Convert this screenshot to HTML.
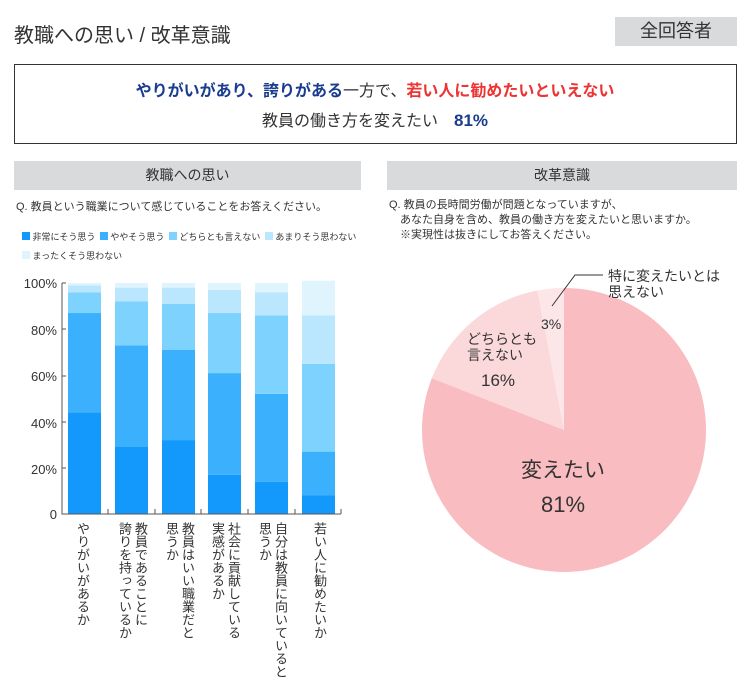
<!DOCTYPE html>
<html><head><meta charset="utf-8"><style>
body{margin:0;width:750px;height:700px;background:#fff;font-family:"Liberation Sans","Noto Sans CJK JP",sans-serif;color:#333;position:relative;overflow:hidden}
.a{position:absolute;white-space:nowrap}
.v{position:absolute;writing-mode:vertical-rl;font-size:13px;line-height:16px;color:#333;top:522px}
</style></head><body>
<div class="a" style="left:14px;top:19px;font-size:20px">教職への思い / 改革意識</div>
<div class="a" style="left:615px;top:17px;width:122px;height:29px;background:#d9dadc;font-size:18px;text-align:center;line-height:29px">全回答者</div>
<div class="a" style="left:14px;top:64px;width:721px;height:78px;border:1px solid #333"></div>
<div class="a" style="left:0;width:750px;top:77px;text-align:center;font-size:16px;font-weight:bold;color:#1a3c8f">やりがいがあり、誇りがある<span style="font-weight:normal;color:#333">一方で、</span><span style="color:#ee3333">若い人に勧めたいといえない</span></div>
<div class="a" style="left:0;width:750px;top:107px;text-align:center;font-size:16px">教員の働き方を変えたい　<span style="color:#1a3c8f;font-weight:bold;font-size:17px">81%</span></div>

<div class="a" style="left:14px;top:161px;width:347px;height:29px;background:#d9dadc;font-size:14px;text-align:center;line-height:29px">教職への思い</div>
<div class="a" style="left:387px;top:161px;width:350px;height:29px;background:#d9dadc;font-size:14px;text-align:center;line-height:29px">改革意識</div>
<div class="a" style="left:16px;top:198px;font-size:11px">Q. 教員という職業について感じていることをお答えください。</div>
<div class="a" style="left:389px;top:198px;font-size:11px;line-height:15px">Q. 教員の長時間労働が問題となっていますが、<br>　あなた自身を含め、教員の働き方を変えたいと思いますか。<br>　※実現性は抜きにしてお答えください。</div>

<div class="a" style="left:22px;top:232px;font-size:9px;line-height:10px">
<span style="display:inline-block;width:8px;height:8px;background:#1398fb"></span> 非常にそう思う
<span style="display:inline-block;width:8px;height:8px;background:#3bb1fd;margin-left:2px"></span> ややそう思う
<span style="display:inline-block;width:8px;height:8px;background:#7dd3fe;margin-left:2px"></span> どちらとも言えない
<span style="display:inline-block;width:8px;height:8px;background:#bae6fe;margin-left:2px"></span> あまりそう思わない</div>
<div class="a" style="left:22px;top:251px;font-size:9px;line-height:10px"><span style="display:inline-block;width:8px;height:8px;background:#e0f4fe"></span> まったくそう思わない</div>

<svg class="a" style="left:0;top:0" width="750" height="700">
<g font-size="13" fill="#333" text-anchor="end" font-family="Liberation Sans,sans-serif">
<text x="57" y="288">100%</text><text x="57" y="335">80%</text><text x="57" y="381">60%</text><text x="57" y="428">40%</text><text x="57" y="474">20%</text><text x="57" y="519">0</text></g>
<g id="bars"></g>
<path d="M62,283H66M62,329H66M62,376H66M62,422H66M62,468H66M62,283V514H341M108,514V509M155,514V509M201,514V509M248,514V509M295,514V509M341,514V509" stroke="#555" fill="none"/>
<g>
<path d="M564,430 L564,288 A142,142 0 1,1 431.8,378.2 Z" fill="#f9bcc0"/>
<path d="M564,430 L431.8,378.2 A142,142 0 0,1 537.4,290.5 Z" fill="#fbd8da"/>
<path d="M564,430 L537.4,290.5 A142,142 0 0,1 564,288 Z" fill="#fde6e8"/>
</g>
<path d="M552,306 L575,275 H603" stroke="#333" fill="none"/>
<g font-family="Liberation Sans,Noto Sans CJK JP,sans-serif" fill="#333">
<text x="608" y="281" font-size="14">特に変えたいとは</text>
<text x="608" y="297" font-size="14">思えない</text>
<text x="541" y="329" font-size="14">3%</text>
<text x="467" y="344" font-size="14">どちらとも</text>
<text x="467" y="360" font-size="14">言えない</text>
<text x="498" y="386" font-size="17" text-anchor="middle">16%</text>
<text x="563" y="477" font-size="21" text-anchor="middle">変えたい</text>
<text x="563" y="512" font-size="22" text-anchor="middle">81%</text>
</g>
</svg>

<div class="v" style="left:74px">やりがいがあるか</div>
<div class="v" style="left:116px">教員であることに<br>誇りを持っているか</div>
<div class="v" style="left:163px">教員はいい職業だと<br>思うか</div>
<div class="v" style="left:209px">社会に貢献している<br>実感があるか</div>
<div class="v" style="left:256px">自分は教員に向いていると<br>思うか</div>
<div class="v" style="left:311px">若い人に勧めたいか</div>

<script>
var d=[[44,87,96,99,100],[29,73,92,98,100],[32,71,91,98,100],[17,61,87,97,100],[14,52,86,96,100],[8,27,65,86,101]];
var xs=[68,115,162,208,255,302],c=["#1398fb","#3bb1fd","#7dd3fe","#bae6fe","#e0f4fe"],g=document.getElementById("bars"),s="";
function y(p){return 514-p*2.31;}
d.forEach(function(b,i){var p=0;b.forEach(function(v,k){s+='<rect x="'+xs[i]+'" y="'+y(v)+'" width="33" height="'+(y(p)-y(v))+'" fill="'+c[k]+'"/>';p=v;});});
g.innerHTML=s;
</script>
</body></html>
